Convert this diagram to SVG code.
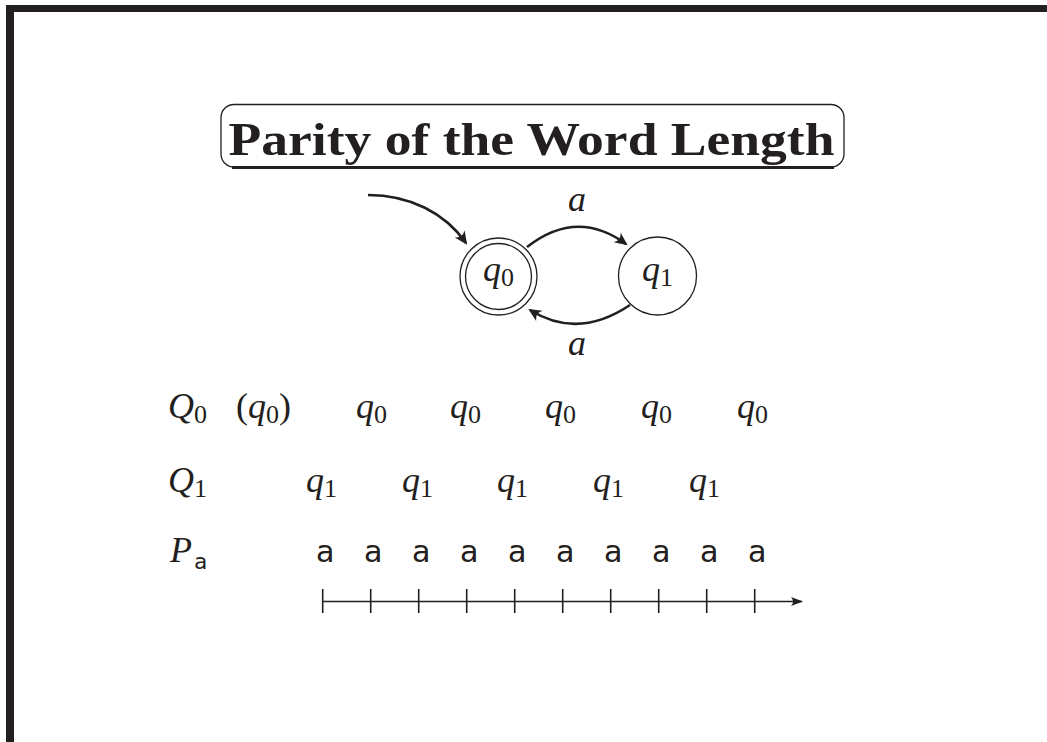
<svg xmlns="http://www.w3.org/2000/svg" width="1047" height="742" viewBox="0 0 1047 742">
<style>
.frame{fill:#231f20}
.title{font-family:"Liberation Serif",serif;font-weight:bold;font-size:47px;fill:#231f20}
.m{font-family:"Liberation Serif",serif;font-size:36px;fill:#231f20}
.it{font-style:italic}
.sb{font-size:26px}
.tt{font-family:"DejaVu Sans Mono","Liberation Mono",monospace;font-size:31px;fill:#231f20}
.node{fill:none;stroke:#231f20;stroke-width:1.3}
.edge{fill:none;stroke:#231f20;stroke-width:2.6}
.axis{fill:none;stroke:#231f20;stroke-width:1.6}
</style>
<defs>
<marker id="ah" markerUnits="userSpaceOnUse" markerWidth="20" markerHeight="20" viewBox="-15 -10 20 20" refX="-2" refY="0" orient="auto">
<path d="M0,0 L-13,-6 Q-8,0 -13,6 Z" fill="#231f20"/>
</marker>
<marker id="ah2" markerUnits="userSpaceOnUse" markerWidth="20" markerHeight="20" viewBox="-15 -10 20 20" refX="-1" refY="0" orient="auto">
<path d="M0,0 L-12,-4.5 Q-8,0 -12,4.5 Z" fill="#231f20"/>
</marker>
</defs>
<rect x="0" y="0" width="1047" height="742" fill="#ffffff"/>
<g id="frame">
<rect class="frame" x="6" y="5" width="1041" height="7"/>
<rect class="frame" x="6" y="5" width="8" height="737"/>
</g>
<g id="title">
<rect x="221" y="104.5" width="623" height="62.5" rx="13" ry="13" fill="none" stroke="#231f20" stroke-width="1.3"/>
<line x1="232" y1="167.5" x2="834" y2="167.5" stroke="#231f20" stroke-width="3"/>
<text class="title" x="531.5" y="155" text-anchor="middle" textLength="606" lengthAdjust="spacingAndGlyphs">Parity of the Word Length</text>
</g>
<g id="q0">
<circle class="node" cx="498.5" cy="276.5" r="38.5"/>
<circle class="node" cx="498.5" cy="276.5" r="33"/>
<text class="m" x="483" y="281"><tspan class="it">q</tspan><tspan class="sb" dy="5">0</tspan></text>
</g>
<g id="q1">
<circle class="node" cx="657.5" cy="276" r="39"/>
<text class="m" x="642" y="281"><tspan class="it">q</tspan><tspan class="sb" dy="5">1</tspan></text>
</g>
<g id="connectors">
<path class="edge" d="M368,195 C410,195 445,213 466,243" marker-end="url(#ah)"/>
<path class="edge" d="M527,247 Q577,208 626,244" marker-end="url(#ah)"/>
<path class="edge" d="M630,305 Q578,340 530,310" marker-end="url(#ah)"/>
</g>
<g id="edge-labels">
<text class="m it" x="568" y="211">a</text>
<text class="m it" x="568" y="355">a</text>
</g>
<g id="row-Q0">
<text class="m" x="168" y="418"><tspan class="it">Q</tspan><tspan class="sb" dy="5">0</tspan></text>
<text class="m" x="236" y="418">(<tspan class="it">q</tspan><tspan class="sb" dy="5">0</tspan><tspan dy="-5">)</tspan></text>
<text class="m" x="356" y="418"><tspan class="it">q</tspan><tspan class="sb" dy="5">0</tspan></text>
<text class="m" x="450" y="418"><tspan class="it">q</tspan><tspan class="sb" dy="5">0</tspan></text>
<text class="m" x="545" y="418"><tspan class="it">q</tspan><tspan class="sb" dy="5">0</tspan></text>
<text class="m" x="641" y="418"><tspan class="it">q</tspan><tspan class="sb" dy="5">0</tspan></text>
<text class="m" x="737" y="418"><tspan class="it">q</tspan><tspan class="sb" dy="5">0</tspan></text>
</g>
<g id="row-Q1">
<text class="m" x="168" y="492"><tspan class="it">Q</tspan><tspan class="sb" dy="5">1</tspan></text>
<text class="m" x="306" y="492"><tspan class="it">q</tspan><tspan class="sb" dy="5">1</tspan></text>
<text class="m" x="402" y="492"><tspan class="it">q</tspan><tspan class="sb" dy="5">1</tspan></text>
<text class="m" x="497" y="492"><tspan class="it">q</tspan><tspan class="sb" dy="5">1</tspan></text>
<text class="m" x="593" y="492"><tspan class="it">q</tspan><tspan class="sb" dy="5">1</tspan></text>
<text class="m" x="689" y="492"><tspan class="it">q</tspan><tspan class="sb" dy="5">1</tspan></text>
</g>
<g id="row-Pa">
<text class="m it" x="170" y="562">P</text>
<text class="tt" x="194" y="569" style="font-size:22px">a</text>
<g class="tt" text-anchor="middle">
<text x="325" y="562">a</text>
<text x="373" y="562">a</text>
<text x="421" y="562">a</text>
<text x="469" y="562">a</text>
<text x="517" y="562">a</text>
<text x="565" y="562">a</text>
<text x="613" y="562">a</text>
<text x="661" y="562">a</text>
<text x="709" y="562">a</text>
<text x="757" y="562">a</text>
</g>
</g>
<g id="timeline">
<path class="axis" d="M322.7,601.5 H802" marker-end="url(#ah2)"/>
<path class="axis" d="M322.7,589 V613 M370.7,589 V613 M418.7,589 V613 M466.7,589 V613 M514.7,589 V613 M562.7,589 V613 M610.7,589 V613 M658.7,589 V613 M706.7,589 V613 M754.7,589 V613"/>
</g>
</svg>
